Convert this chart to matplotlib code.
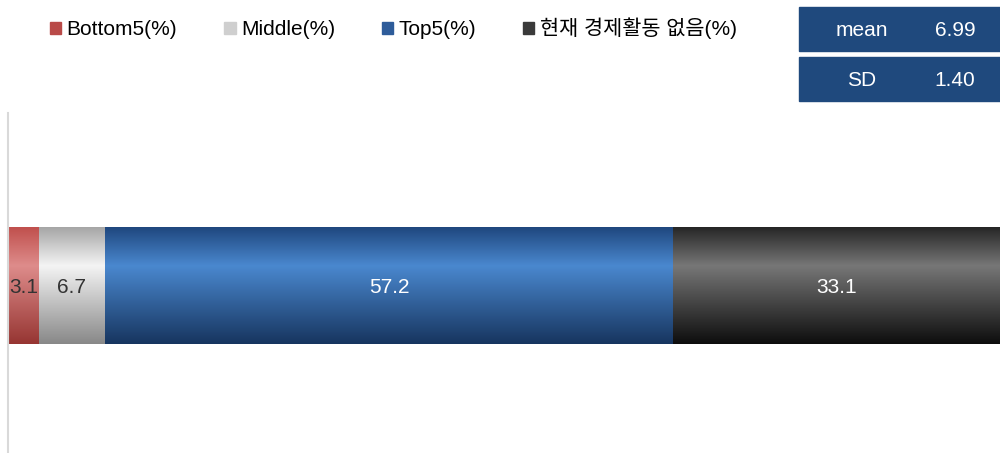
import numpy as np
import matplotlib.pyplot as plt
from matplotlib.colors import LinearSegmentedColormap
from matplotlib.patches import Rectangle

plt.rcParams['font.family'] = ['Liberation Sans', 'Noto Sans CJK KR']

# data
labels = ['Bottom5(%)', 'Middle(%)', 'Top5(%)', '현재 경제활동 없음(%)']
values = [3.1, 6.7, 57.2, 33.1]
stats_names = ['mean', 'SD']
stats_values = ['6.99', '1.40']

# gradient stops: top, highlight, bottom
grads = [('#c0504d', '#de8c8b', '#963532'),
         ('#a6a6a6', '#f4f4f4', '#888888'),
         ('#1f477e', '#4a88cf', '#17355f'),
         ('#262626', '#777777', '#0d0d0d')]
solid = ['#b94a48', '#cfcfcf', '#2e5c9a', '#3a3a3a']
text_cols = ['#333333', '#333333', 'white', 'white']

fig = plt.figure(figsize=(10, 4.53), dpi=100)
ax = fig.add_axes([0.008, 0.0, 0.992, 0.7506])

yc, h = -0.008, 0.344
left = 0
grad = np.linspace(0, 1, 256).reshape(-1, 1)
for v, g, c, tc in zip(values, grads, solid, text_cols):
    bar = ax.barh(yc, v, left=left, height=h, color=c, linewidth=0)[0]
    cmap = LinearSegmentedColormap.from_list('g', [(0, g[0]), (0.33, g[1]), (1, g[2])])
    im = ax.imshow(grad, cmap=cmap, aspect='auto', origin='upper',
                   extent=[left, left + v, yc - h / 2, yc + h / 2], zorder=2)
    im.set_clip_path(bar)
    ax.text(left + v / 2, yc - 0.004, f'{v:.1f}', ha='center', va='center',
            color=tc, fontsize=15, zorder=3)
    left += v

ax.set_xlim(0, 100)
ax.set_ylim(-0.5, 0.5)
ax.set_xticks([])
ax.set_yticks([])
for s in ['top', 'right', 'bottom']:
    ax.spines[s].set_visible(False)
ax.spines['left'].set_color('#d9d9d9')
ax.spines['left'].set_linewidth(1.5)

handles = [Rectangle((0, 0), 1, 1, color=c) for c in solid]
fig.legend(handles, labels, loc='center left', bbox_to_anchor=(0.05, 0.937),
           ncol=4, frameon=False, fontsize=15, borderpad=0, borderaxespad=0,
           handlelength=0.55, handleheight=0.55, handletextpad=0.25,
           columnspacing=2.25)

# mean / SD boxes
for i, (n, v) in enumerate(zip(stats_names, stats_values)):
    y0 = 1 - (51 + i * 50) / 453
    fig.patches.append(Rectangle((0.799, y0), 0.201, 44 / 453, transform=fig.transFigure,
                                 color='#1f497d', zorder=0))
    fig.text(0.862, y0 + 20 / 453, n, ha='center', va='center', color='white', fontsize=15)
    fig.text(0.955, y0 + 20 / 453, v, ha='center', va='center', color='white', fontsize=15)

fig.savefig('out.png', dpi=100)
